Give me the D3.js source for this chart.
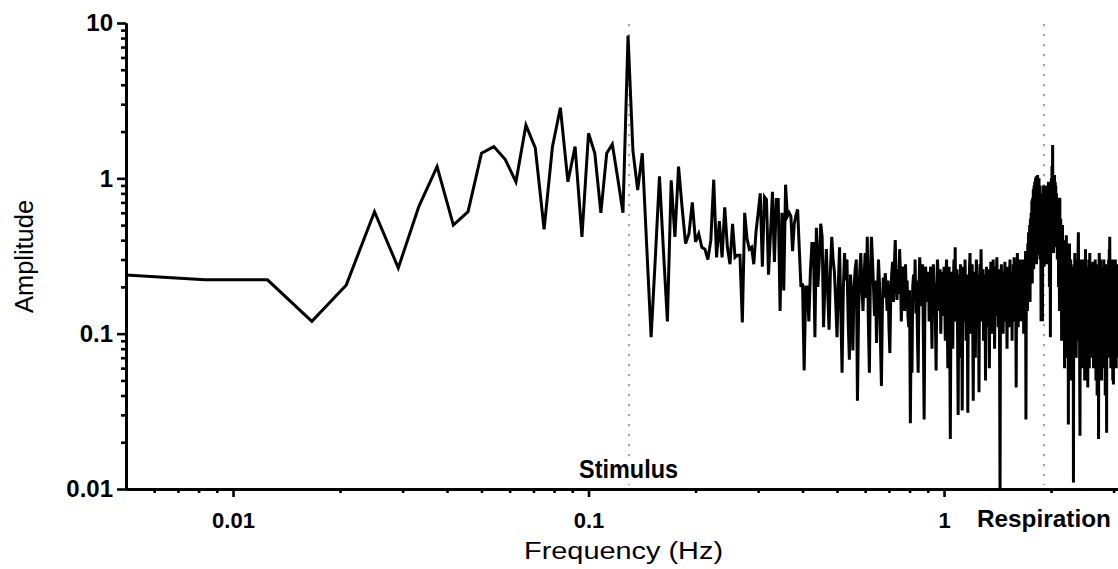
<!DOCTYPE html>
<html>
<head>
<meta charset="utf-8">
<script src="https://cdn.jsdelivr.net/npm/d3@7"></script>
<style>
  body { margin: 0; background: #fff; }
  svg { display: block; font-family: "Liberation Sans", Arial, sans-serif; }
</style>
</head>
<body>
<svg width="1118" height="569"></svg>
<script>
// FFT bin spacing (4 min record) - amplitudes below start at bin 1
const binWidth = 1 / 240;

// amplitude per bin
const ampA = [ // bins 1-50
  .245, .222, .222, .12, .206, .61, .265, .66, 1.19, .5,
  .61, 1.45, 1.6, 1.32, .95, 2.2, 1.57, .47, 1.6, 2.85,
  .95, 1.6, .42, 1.95, 1.45, .6, 1.45, 1.66, 1.0, .6,
  8.3, 1.5, .84, 1.45, .36, .095, .31, 1.03, .34, .12,
  .97, .42, 1.19, .65, .38, .44, .7, .39, .44, .36
];
const ampB = [ // bins 51-100
  .35, .3, .4, .98, .31, .53, .31, .65, .36, .28,
  .51, .31, .32, .32, .118, .6, .41, .35, .36, .28,
  .45, .6, .8, .27, .76, .73, .24, .44, .82, .29,
  .73, .73, .14, .6, .19, .91, .57, .6, .57, .34,
  .51, .58, .63, .35, .2, .21, .058, .2, .2, .12
];
const ampC = [ // bins 101-240
  .25, .38, .38, .095, .48, .2, .3, .51, .42, .11,
  .22, .35, .18, .106, .26, .42, .3, .25, .16, .095,
  .2, .36, .14, .056, .19, .33, .22, .3, .12, .068,
  .24, .15, .078, .2, .26, .3, .037, .14, .25, .33,
  .2, .14, .23, .33, .17, .42, .12, .056, .25, .42,
  .3, .2, .13, .22, .087, .18, .3, .21, .09, .046,
  .15, .23, .17, .245, .2, .14, .22, .11, .075, .18,
  .24, .29, .16, .28, .4, .22, .165, .26, .18, .35,
  .24, .12, .2, .27, .21, .14, .28, .165, .22, .13,
  .11, .19, .0265, .12, .056, .2, .24, .16, .3, .135,
  .22, .1, .056, .18, .31, .24, .2, .15, .28, .09,
  .028, .14, .27, .2, .16, .23, .25, .12, .19, .27,
  .15, .08, .22, .28, .17, .21, .12, .058, .19, .3,
  .24, .14, .2, .26, .1, .18, .25, .21, .13, .27
];
const ampD = [ // bins 241-420
  .18, .09, .24, .3, .14, .06, .2, .27, .11, .021,
  .15, .25, .19, .08, .22, .3, .16, .36, .12, .2,
  .26, .1, .03, .18, .24, .14, .28, .07, .2, .032,
  .16, .27, .22, .12, .3, .18, .09, .24, .15, .031,
  .2, .13, .26, .33, .17, .1, .22, .28, .12, .037,
  .19, .25, .15, .07, .21, .3, .18, .11, .24, .16,
  .042, .2, .28, .14, .35, .22, .12, .17, .26, .09,
  .2, .15, .24, .05, .18, .27, .13, .21, .26, .11,
  .19, .06, .23, .16, .29, .2, .1, .25, .14, .3,
  .17, .22, .08, .19, .27, .13, .24, .31, .15, .2,
  .11, .26, .18, .07, .009, .21, .16, .28, .13, .23,
  .19, .1, .25, .15, .2, .29, .12, .18, .24, .14,
  .08, .21, .27, .16, .19, .11, .24, .3, .13, .2,
  .17, .25, .09, .22, .15, .28, .18, .31, .12, .2,
  .26, .14, .045, .19, .23, .33, .16, .11, .27, .2,
  .15, .25, .3, .12, .21, .18, .28, .14, .24, .17,
  .3, .1, .22, .27, .16, .2, .34, .028, .19, .25,
  .3, .14, .38, .2, .45, .18, .33, .5, .16, .55
];
const ampE = [ // bins 421-510, respiration hump
  .25, .6, .3, .72, .21, .75, .4, .85, .26, .9,
  .35, .95, .3, 1.0, .5, 1.03, .28, .98, .45, 1.05,
  .32, .95, .6, 1.0, .4, .9, .3, .75, .5, .12,
  .8, .35, .65, .12, .55, .9, .3, .7, .27, .85,
  .45, .78, .3, .62, .9, .4, .75, .28, .55, .8,
  .35, .95, .5, .9, .2, .6, .95, .095, .7, .5,
  1.0, .4, 1.2, .6, 1.64, .35, 1.0, .33, .9, .6,
  1.05, .4, .95, .7, .9, .36, .8, .5, .65, .3,
  .75, .4, .6, .2, .7, .35, .14, .75, .3, .5
];
const ampF = [ // bins 511-744
  .55, .2, .45, .09, .38, .25, .5, .15, .3, .4,
  .12, .35, .2, .06, .28, .4, .16, .3, .1, .43,
  .25, .14, .33, .07, .2, .3, .026, .22, .15, .35,
  .38, .12, .25, .05, .3, .18, .1, .27, .2, .08,
  .16, .24, .06, .2, .011, .15, .28, .12, .22, .33,
  .14, .1, .25, .18, .07, .3, .2, .13, .26, .16,
  .09, .35, .45, .2, .12, .3, .15, .05, .022, .18,
  .25, .1, .3, .17, .08, .22, .14, .27, .06, .2,
  .12, .3, .18, .1, .24, .15, .05, .28, .2, .35,
  .13, .22, .09, .18, .27, .12, .2, .08, .045, .16,
  .25, .14, .3, .19, .06, .22, .33, .11, .2, .15,
  .09, .26, .17, .24, .07, .2, .13, .29, .1, .18,
  .24, .06, .15, .27, .12, .2, .08, .22, .3, .14,
  .18, .05, .25, .11, .2, .16, .04, .28, .13, .21,
  .09, .17, .021, .15, .26, .33, .12, .19, .07, .24,
  .14, .3, .1, .2, .16, .05, .27, .18, .12, .22,
  .08, .25, .15, .2, .06, .3, .13, .19, .1, .24,
  .16, .04, .22, .28, .12, .18, .09, .023, .2, .14,
  .26, .11, .18, .07, .25, .15, .3, .12, .2, .35,
  .14, .42, .22, .1, .27, .17, .06, .2, .13, .3,
  .18, .09, .24, .15, .2, .05, .28, .12, .047, .19,
  .25, .13, .3, .17, .08, .22, .14, .3, .1, .2,
  .16, .06, .24, .13, .28, .18, .09, .21, .15, .26,
  .11, .19, .07, .22
];

const xMajor = [0.01, 0.1, 1];
const xTickLabels = ['0.01', '0.1', '1'];
const xMinor = [0.006, 0.007, 0.008, 0.009, 0.02, 0.03, 0.04, 0.05, 0.06, 0.07, 0.08, 0.09,
                0.2, 0.3, 0.4, 0.5, 0.6, 0.7, 0.8, 0.9, 2, 3];
const yMajor = [0.01, 0.1, 1, 10];
const yTickLabels = ['0.01', '0.1', '1', '10'];
const yMinor = [0.02, 0.03, 0.04, 0.05, 0.06, 0.07, 0.08, 0.09,
                0.2, 0.3, 0.4, 0.5, 0.6, 0.7, 0.8, 0.9, 2, 3, 4, 5, 6, 7, 8, 9];

const markerFreqs = [0.13, 1.91];
const markerLabels = ['Stimulus', 'Respiration'];

const amplitude = [].concat(ampA, ampB, ampC, ampD, ampE, ampF);
const spectrum = amplitude.map((a, i) => ({f: (i + 1) * binWidth, a: a}));

const svg = d3.select('svg');
const plotLeft = 126, plotRight = 1118.7, plotTop = 23, plotBottom = 489;

const x = d3.scaleLog().domain([0.005, 3.1]).range([plotLeft, plotRight]);
const y = d3.scaleLog().domain([0.01, 10]).range([plotBottom, plotTop]);

svg.append('defs').append('clipPath').attr('id', 'plot')
   .append('rect').attr('x', plotLeft).attr('y', 0)
   .attr('width', plotRight - plotLeft).attr('height', plotBottom);

// dotted marker lines
svg.selectAll('.marker')
   .data(markerFreqs)
   .enter()
   .append('line')
   .attr('x1', d => x(d)).attr('x2', d => x(d))
   .attr('y1', plotTop + 1).attr('y2', plotBottom - 4)
   .attr('stroke', '#a6a6a6')
   .attr('stroke-width', 2.2)
   .attr('stroke-dasharray', '2.2 7.8');

// spectrum line
const line = d3.line().x(d => x(d.f)).y(d => y(d.a));
svg.append('path')
   .datum(spectrum)
   .attr('clip-path', 'url(#plot)')
   .attr('fill', 'none')
   .attr('stroke', '#000')
   .attr('stroke-width', 3)
   .attr('d', line);

// axes
function styleAxis(g, labelSize) {
  g.attr('font-family', null).attr('font-size', null);
  g.select('.domain').attr('stroke-width', 3).attr('stroke', '#000');
  g.selectAll('.tick line').attr('stroke-width', 2.6).attr('stroke', '#000');
  g.selectAll('.tick text').attr('font-size', labelSize).attr('font-weight', 'bold').attr('fill', '#000');
}

const yAxis = svg.append('g').attr('transform', `translate(${plotLeft},0)`)
  .call(d3.axisLeft(y).tickValues(yMajor).tickFormat((d, i) => yTickLabels[i])
        .tickSize(9).tickSizeOuter(0).tickPadding(4));
styleAxis(yAxis, 24);
const yAxisMinor = svg.append('g').attr('transform', `translate(${plotLeft},0)`)
  .call(d3.axisLeft(y).tickValues(yMinor).tickFormat('').tickSize(5).tickSizeOuter(0));
styleAxis(yAxisMinor, 0);

const xAxis = svg.append('g').attr('transform', `translate(0,${plotBottom})`)
  .call(d3.axisBottom(x).tickValues(xMajor).tickFormat((d, i) => xTickLabels[i])
        .tickSize(8).tickSizeOuter(0).tickPadding(15));
styleAxis(xAxis, 22);
const xAxisMinor = svg.append('g').attr('transform', `translate(0,${plotBottom})`)
  .call(d3.axisBottom(x).tickValues(xMinor).tickFormat('').tickSize(4).tickSizeOuter(0));
styleAxis(xAxisMinor, 0);

// marker labels
svg.append('rect')
   .attr('x', x(markerFreqs[0]) - 50).attr('y', 458)
   .attr('width', 100).attr('height', 24).attr('fill', '#fff');
svg.append('text')
   .attr('x', x(markerFreqs[0]) - 0.5).attr('y', 478)
   .attr('text-anchor', 'middle')
   .attr('font-size', 25).attr('font-weight', 'bold')
   .attr('textLength', 99).attr('lengthAdjust', 'spacingAndGlyphs')
   .text(markerLabels[0]);
svg.append('text')
   .attr('x', x(markerFreqs[1])).attr('y', 527)
   .attr('text-anchor', 'middle')
   .attr('font-size', 24).attr('font-weight', 'bold')
   .attr('textLength', 134).attr('lengthAdjust', 'spacingAndGlyphs')
   .text(markerLabels[1]);

// axis titles
svg.append('text')
   .attr('x', 623.5).attr('y', 559)
   .attr('text-anchor', 'middle')
   .attr('font-size', 23)
   .attr('textLength', 199).attr('lengthAdjust', 'spacingAndGlyphs')
   .text('Frequency (Hz)');
svg.append('text')
   .attr('transform', 'translate(33,256.5) rotate(-90)')
   .attr('text-anchor', 'middle')
   .attr('font-size', 25)
   .attr('textLength', 113).attr('lengthAdjust', 'spacingAndGlyphs')
   .text('Amplitude');
</script>
</body>
</html>
